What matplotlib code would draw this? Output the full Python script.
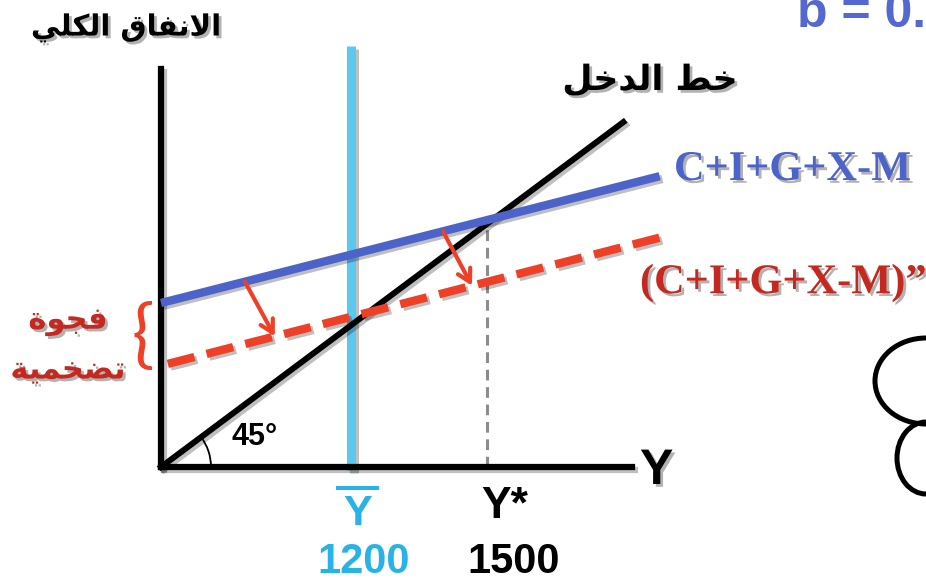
import numpy as np
import matplotlib
matplotlib.use('Agg')
import matplotlib.pyplot as plt
import matplotlib.patheffects as pe
from matplotlib.patches import Arc

# ---- data (income units; schematic Keynesian cross) ----
origin = 780                      # where the two axes meet
income_x = [780, 1800]            # 45 degree income line, y = x
ae_x = [780, 1880]                # C+I+G+X-M
ae_y = [1265, 1640]
ae2_x = [795, 1885]               # (C+I+G+X-M)"
ae2_y = [1085, 1460]
y_bar = 1200
y_star = 1500
arrow_from_x = [965, 1402]        # shift arrows, from AE to AE"
arrow_to_x = [1031, 1466]
x_max = 1819
y_max = 1957

# ---- colours ----
BLUE = '#4C63C9'
CYAN = '#5BC8EF'
CYAN_TXT = '#29B2E6'
RED = '#EE4027'
DARK_RED = '#C4281E'

# minimal arabic shaping (matplotlib has no complex text layout)
ARABIC_FORMS = {
    'ا': (0xFE8D, 2), 'ة': (0xFE93, 2), 'ت': (0xFE95, 4), 'ج': (0xFE9D, 4),
    'خ': (0xFEA5, 4), 'د': (0xFEA9, 2), 'ض': (0xFEBD, 4), 'ط': (0xFEC1, 4),
    'ف': (0xFED1, 4), 'ق': (0xFED5, 4), 'ك': (0xFED9, 4), 'ل': (0xFEDD, 4),
    'م': (0xFEE1, 4), 'ن': (0xFEE5, 4), 'و': (0xFEED, 2), 'ي': (0xFEF1, 4),
}


def shape_arabic(text):
    """Convert to presentation forms and reverse into visual order"""
    chars = []
    i = 0
    while i < len(text):
        if text[i] == 'ل' and i + 1 < len(text) and text[i + 1] == 'ا':
            chars.append('LA')
            i += 2
        else:
            chars.append(text[i])
            i += 1

    def joins_next(c):
        return c in ARABIC_FORMS and ARABIC_FORMS[c][1] == 4

    def is_arabic(c):
        return c in ARABIC_FORMS or c == 'LA'

    out = []
    for k, c in enumerate(chars):
        prev = chars[k - 1] if k > 0 else None
        nxt = chars[k + 1] if k + 1 < len(chars) else None
        p = prev is not None and joins_next(prev)
        if c == 'LA':
            out.append(chr(0xFEFC if p else 0xFEFB))
            continue
        if c not in ARABIC_FORMS:
            out.append(c)
            continue
        base, n = ARABIC_FORMS[c]
        nx = n == 4 and nxt is not None and is_arabic(nxt)
        if p and nx:
            form = 3
        elif p:
            form = 1
        elif nx:
            form = 2
        else:
            form = 0
        out.append(chr(base + form))
    return ''.join(reversed(out))


line_shadow = [pe.SimpleLineShadow(offset=(2, -2), shadow_color='k', alpha=0.25), pe.Normal()]
text_shadow = [pe.withSimplePatchShadow(offset=(2, -2), shadow_rgbFace='k', alpha=0.3)]

fig = plt.figure(figsize=(9.26, 5.84), dpi=100)

# overlay in pixel space for labels and decoration
deco = fig.add_axes([0, 0, 1, 1])
deco.set_xlim(0, 926)
deco.set_ylim(584, 0)
deco.axis('off')

ax = fig.add_axes([161 / 926, 117 / 584, 471 / 926, 398 / 584])
ax.set_xlim(origin, x_max)
ax.set_ylim(origin, y_max)
ax.patch.set_alpha(0)
for s in ['top', 'right']:
    ax.spines[s].set_visible(False)
for s in ['left', 'bottom']:
    ax.spines[s].set_linewidth(4.5)
    ax.spines[s].set_color('k')
    ax.spines[s].set_path_effects(line_shadow)
ax.set_xticks([])
ax.set_yticks([])

# lines
ax.axvline(y_bar, ymin=-0.008, ymax=1.058, color=CYAN, lw=6.5, clip_on=False,
           solid_capstyle='butt', zorder=1.5, path_effects=line_shadow)
ax.plot(income_x, income_x, color='k', lw=4.3, clip_on=False, zorder=3,
        path_effects=line_shadow)
ax.plot(ae_x, ae_y, color=BLUE, lw=6, clip_on=False, zorder=3,
        solid_capstyle='butt', path_effects=line_shadow)
ax.plot(ae2_x, ae2_y, color=RED, lw=6, ls=(0, (3.3, 1.5)), clip_on=False,
        zorder=3, path_effects=line_shadow)
ax.plot([y_star, y_star], [origin, np.interp(y_star, ae_x, ae_y)],
        color='#8C8C8C', lw=2.2, ls=(0, (3.5, 2.2)), zorder=2)

for fx, tx in zip(arrow_from_x, arrow_to_x):
    ax.annotate('', xy=(tx, np.interp(tx, ae2_x, ae2_y)),
                xytext=(fx, np.interp(fx, ae_x, ae_y)),
                arrowprops=dict(arrowstyle='->,head_length=0.9,head_width=0.5',
                                color=RED, lw=3, shrinkA=0, shrinkB=0),
                zorder=4)

# 45 degree angle mark (radius 50 px)
ax.add_patch(Arc((origin, origin), 100 / 0.4533, 100 / 0.338, theta1=0, theta2=45,
                 color='k', lw=1.3, clip_on=False))

# axis value labels
lab = dict(xycoords=('data', 'axes fraction'), textcoords='offset pixels',
           ha='center', va='center', fontweight='bold', family='Liberation Sans')
ax.annotate('\u2014\nY', xy=(y_bar, 0), xytext=(6, -34), fontsize=31,
            linespacing=0.55, color=CYAN_TXT, **lab)
ax.annotate('1200', xy=(y_bar, 0), xytext=(12, -95), fontsize=30, color=CYAN_TXT, **lab)
ax.annotate('Y*', xy=(y_star, 0), xytext=(17, -39), fontsize=32, color='k', **lab)
ax.annotate('1500', xy=(y_star, 0), xytext=(26, -95), fontsize=30, color='k', **lab)

# texts
ar = dict(family='DejaVu Sans', fontweight='bold', ha='center', va='center',
          path_effects=text_shadow)
deco.text(126, 28, shape_arabic('الانفاق الكلي'), fontsize=21, color='k', **ar)
deco.text(650, 80, shape_arabic('خط الدخل'), fontsize=25, color='k', **ar)
deco.text(68, 322, shape_arabic('فجوة'), fontsize=22, color=DARK_RED, **ar)
deco.text(68, 370, shape_arabic('تضخمية'), fontsize=22, color=DARK_RED, **ar)
deco.text(143, 338, '{', fontsize=54, color=RED, family='Lato',
          ha='center', va='center')

deco.text(674, 170, 'C+I+G+X-M', family='Liberation Serif', fontweight='bold',
          fontsize=30.5, color=BLUE, ha='left', va='center', path_effects=text_shadow)
deco.text(640, 283, '(C+I+G+X-M)\u201d', family='Liberation Serif', fontweight='bold',
          fontsize=30.5, color=DARK_RED, ha='left', va='center', path_effects=text_shadow)
deco.text(797, 27, 'b = 0.', family='Liberation Sans', fontweight='bold',
          fontsize=36, color='#5468CF', ha='left', va='baseline')
deco.text(640, 471, 'Y', family='Liberation Sans', fontweight='bold', fontsize=36,
          color='k', ha='left', va='center', path_effects=text_shadow)
deco.text(232, 437, '45\u00b0', family='Liberation Sans', fontweight='bold', fontsize=22,
          color='k', ha='left', va='center')

# cut-off squiggle at the right edge
deco.add_patch(Arc((926, 381), 102, 86, theta1=90, theta2=270, color='k', lw=3.6))
deco.add_patch(Arc((926, 458), 58, 72, theta1=90, theta2=270, color='k', lw=3.6))

fig.savefig('out.png', dpi=100)
